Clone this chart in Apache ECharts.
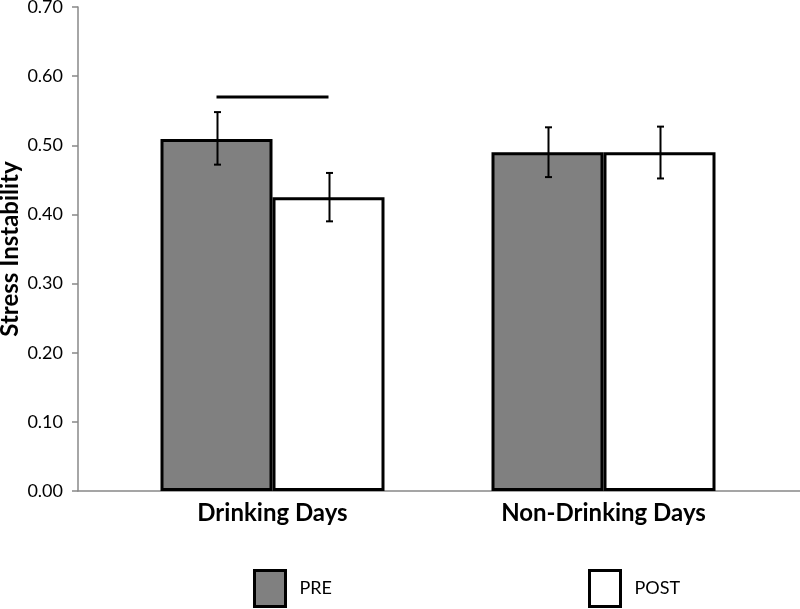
<!DOCTYPE html>
<html>
<head>
<meta charset="utf-8">
<script src="https://cdn.jsdelivr.net/npm/echarts@6/dist/echarts.min.js"></script>
<style>
html,body{margin:0;padding:0;background:#fff;}
#chart{width:800px;height:609px;}
</style>
</head>
<body>
<div id="chart"></div>
<script>
const categories = ['Drinking Days', 'Non-Drinking Days'];
const seriesNames = ['PRE', 'POST'];
const preValues = [0.509, 0.490];
const postValues = [0.425, 0.490];
const preErrLow = [0.472, 0.454];
const preErrHigh = [0.548, 0.526];
const postErrLow = [0.390, 0.452];
const postErrHigh = [0.460, 0.527];
const sigBracket = [[0, 0.570]]; // category index, value
const yTicks = [0, 0.1, 0.2, 0.3, 0.4, 0.5, 0.6, 0.7];

const FONT = 'Lato';
const BAR_W = 112;

const errData = [];
for (let i = 0; i < categories.length; i++) {
  errData.push([i, preErrLow[i], preErrHigh[i], 0]);
  errData.push([i, postErrLow[i], postErrHigh[i], 1]);
}

function renderErr(params, api) {
  const cat = api.value(0), lo = api.value(1), hi = api.value(2), side = api.value(3);
  const pLo = api.coord([cat, lo]);
  const pHi = api.coord([cat, hi]);
  const x = Math.round(pLo[0] + (side - 0.5) * BAR_W) + 0.5;
  const cap = 3.5;
  const st = { stroke: '#000', lineWidth: 2 };
  return {
    type: 'group',
    children: [
      { type: 'line', shape: { x1: x, y1: pLo[1], x2: x, y2: pHi[1] }, style: st },
      { type: 'line', shape: { x1: x - cap, y1: pLo[1], x2: x + cap, y2: pLo[1] }, style: st },
      { type: 'line', shape: { x1: x - cap, y1: pHi[1], x2: x + cap, y2: pHi[1] }, style: st }
    ]
  };
}

function renderSig(params, api) {
  const cat = api.value(0), v = api.value(1);
  const p = api.coord([cat, v]);
  return {
    type: 'line',
    shape: { x1: p[0] - BAR_W / 2, y1: p[1], x2: p[0] + BAR_W / 2, y2: p[1] },
    style: { stroke: '#000', lineWidth: 3 }
  };
}

const chart = echarts.init(document.getElementById('chart'), null, { renderer: 'canvas' });
chart.setOption({
  animation: false,
  backgroundColor: '#fff',
  textStyle: { fontFamily: FONT },
  grid: [
    { left: 107, right: 31, top: 7, bottom: 118, outerBoundsMode: 'none', containLabel: false },
    { left: 78, right: 0, top: 7, bottom: 118, outerBoundsMode: 'none', containLabel: false }
  ],
  legend: [
    {
      data: [seriesNames[0]], left: 253, top: 569, padding: 0,
      itemWidth: 31, itemHeight: 36, icon: 'rect',
      itemStyle: { borderColor: '#000', borderWidth: 3 },
      textStyle: { fontFamily: FONT, fontSize: 18, color: '#000', padding: [0, 0, 0, 9] }
    },
    {
      data: [seriesNames[1]], left: 588, top: 569, padding: 0,
      itemWidth: 31, itemHeight: 36, icon: 'rect',
      itemStyle: { borderColor: '#000', borderWidth: 3 },
      textStyle: { fontFamily: FONT, fontSize: 18, color: '#000', padding: [0, 0, 0, 9] }
    }
  ],
  xAxis: [
    {
      type: 'category', gridIndex: 0, data: categories,
      axisLine: { show: false }, axisTick: { show: false },
      axisLabel: { fontFamily: FONT, fontSize: 24, fontWeight: 'bold', color: '#000', margin: 10 }
    },
    {
      type: 'value', gridIndex: 1, min: 0, max: 1,
      axisLine: { show: true, lineStyle: { color: '#888', width: 1.5 } },
      axisTick: { show: false }, axisLabel: { show: false }, splitLine: { show: false }
    }
  ],
  yAxis: [
    { type: 'value', gridIndex: 0, min: 0, max: 0.7, interval: 0.1, show: false, splitLine: { show: false } },
    {
      type: 'value', gridIndex: 1, min: 0, max: 0.7, interval: 0.1,
      axisLine: { show: true, lineStyle: { color: '#888', width: 1.5 } },
      axisTick: { show: true, length: 6, lineStyle: { color: '#888', width: 1.5 } },
      splitLine: { show: false },
      axisLabel: {
        fontFamily: FONT, fontSize: 18, color: '#000', margin: 15,
        formatter: v => yTicks.some(t => Math.abs(t - v) < 1e-9) ? v.toFixed(2) : ''
      },
      name: 'Stress Instability', nameLocation: 'middle', nameGap: 56, nameMoveOverlap: false,
      nameTextStyle: { fontFamily: FONT, fontSize: 24, fontWeight: 'bold', color: '#000' }
    }
  ],
  series: [
    {
      name: seriesNames[0], type: 'bar', xAxisIndex: 0, yAxisIndex: 0, data: preValues,
      barGap: '0%', barWidth: BAR_W,
      itemStyle: { color: '#808080', borderColor: '#000', borderWidth: 3 }
    },
    {
      name: seriesNames[1], type: 'bar', xAxisIndex: 0, yAxisIndex: 0, data: postValues,
      barGap: '0%', barWidth: BAR_W,
      itemStyle: { color: '#ffffff', borderColor: '#000', borderWidth: 3 }
    },
    {
      type: 'custom', xAxisIndex: 0, yAxisIndex: 0, data: errData,
      renderItem: renderErr, z: 10, silent: true
    },
    {
      type: 'custom', xAxisIndex: 0, yAxisIndex: 0, data: sigBracket,
      renderItem: renderSig, z: 10, silent: true
    }
  ]
});
</script>
</body>
</html>
